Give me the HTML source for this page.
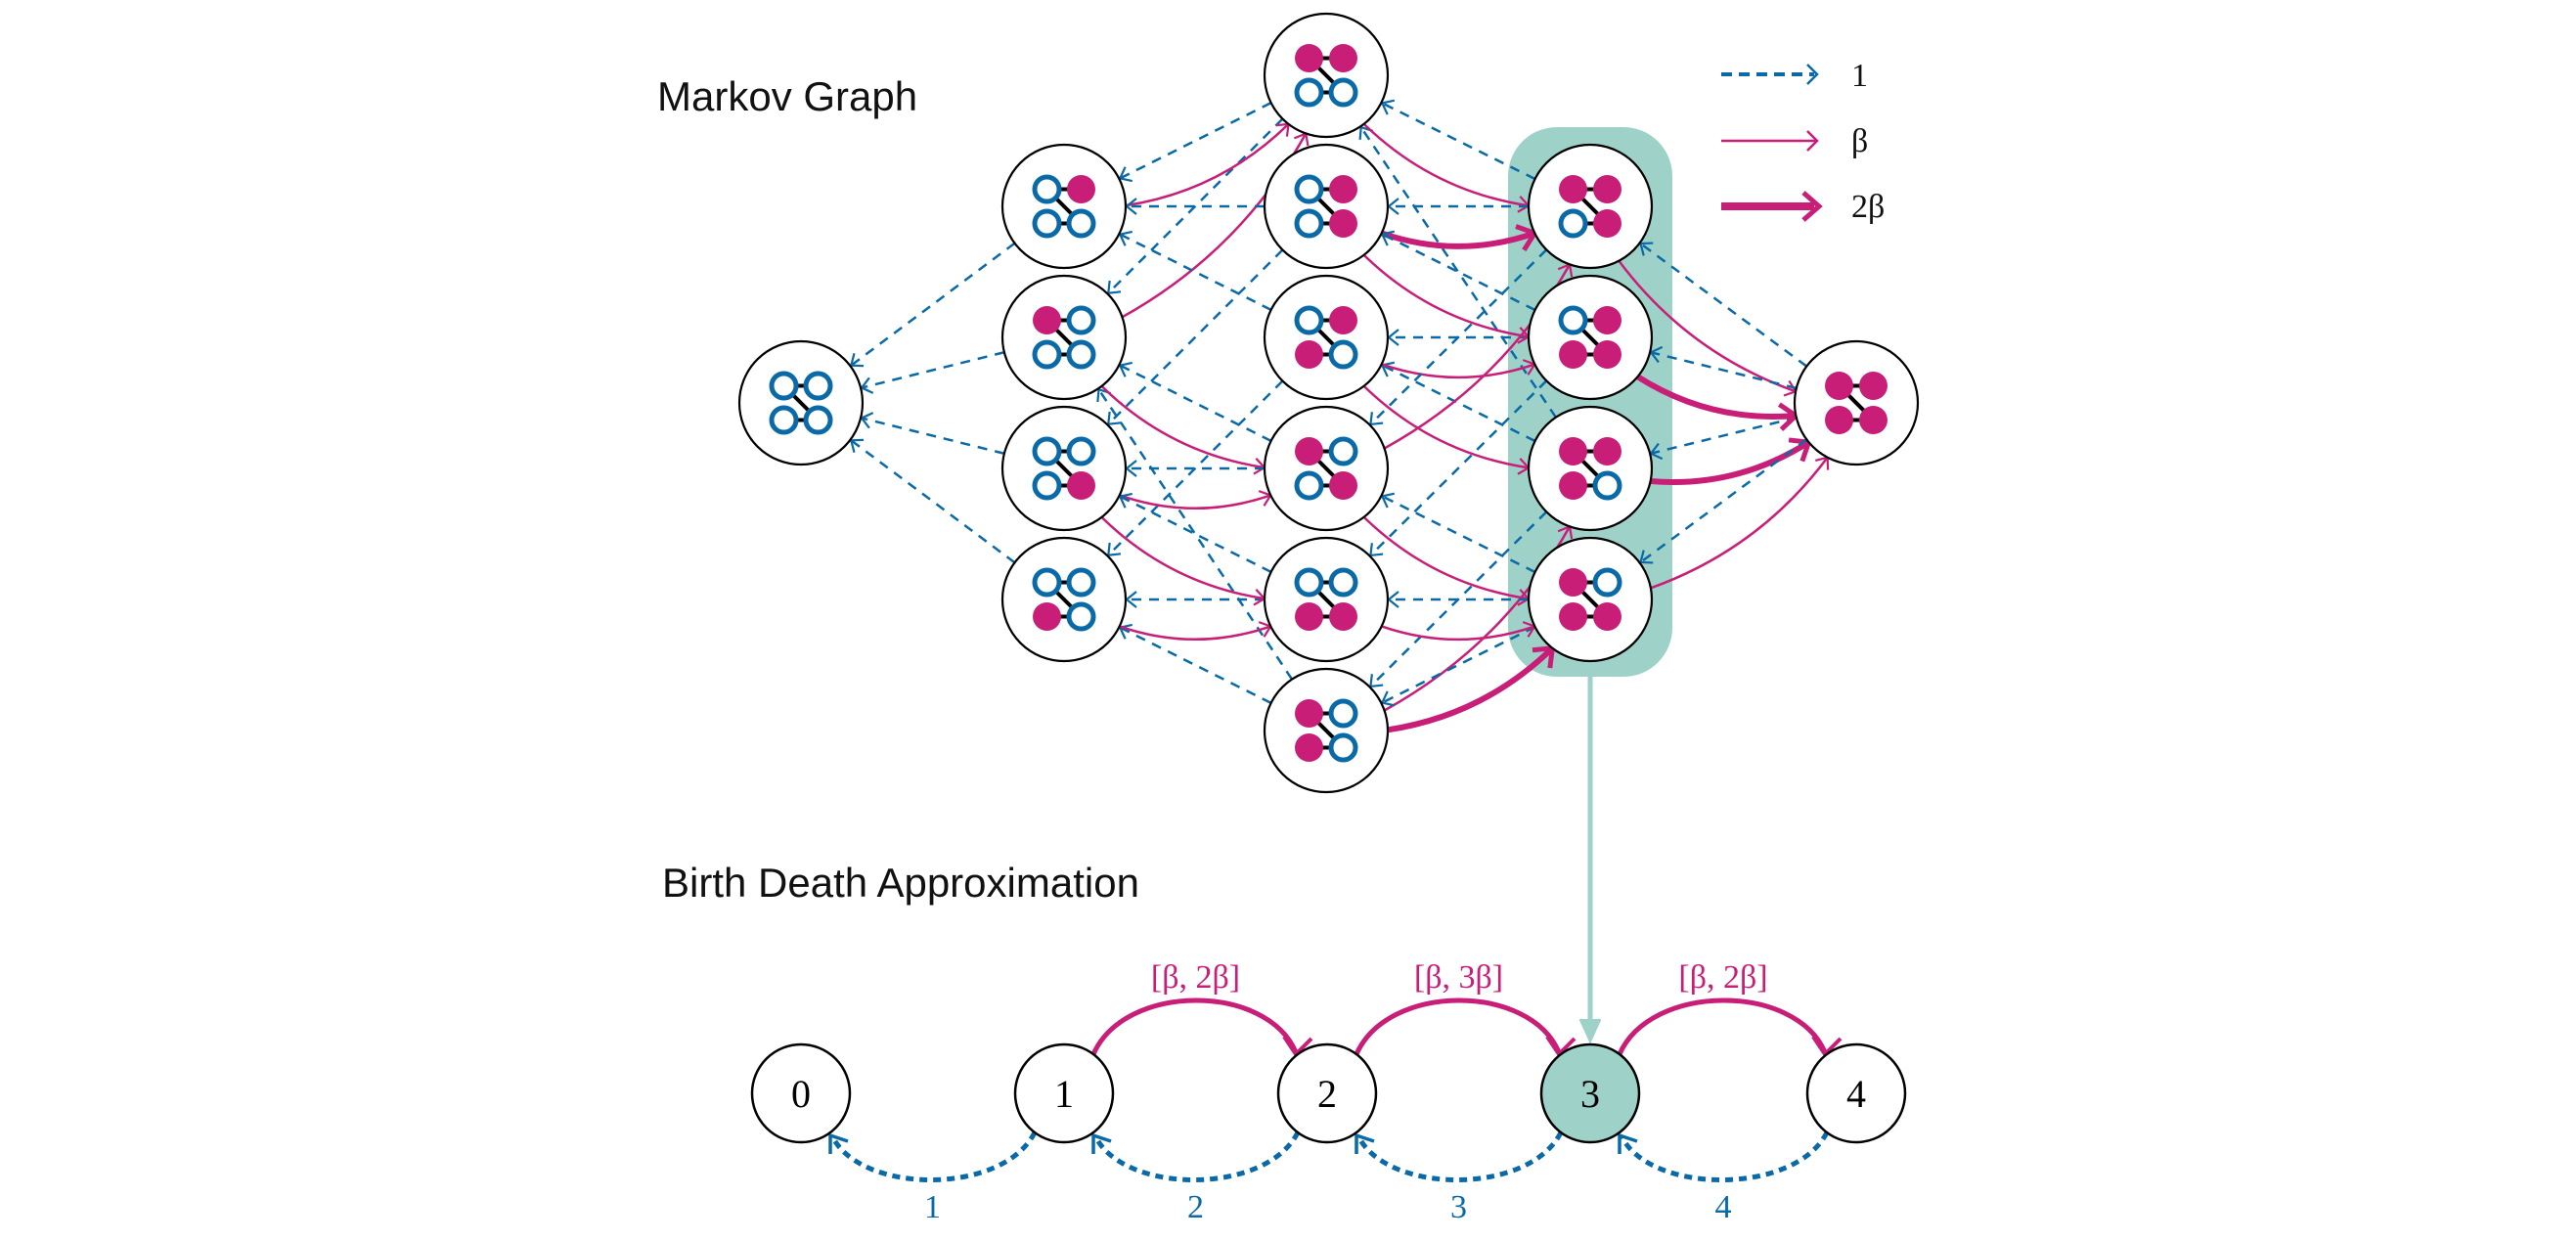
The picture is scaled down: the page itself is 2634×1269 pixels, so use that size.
<!DOCTYPE html>
<html><head><meta charset="utf-8"><style>
html,body{margin:0;padding:0;background:#fff;}
svg{display:block;}
</style></head><body>
<svg id="s" width="2634" height="1269" viewBox="0 0 2634 1269" xmlns="http://www.w3.org/2000/svg">
<rect x="1542" y="130" width="168" height="562" rx="50" ry="50" fill="#9ed2c8"/>
<g id="edges"></g>
<g id="nodes"></g>
<text x="672" y="113" font-family="Liberation Sans, sans-serif" font-size="42" fill="#111">Markov Graph</text>
<text x="677" y="917" font-family="Liberation Sans, sans-serif" font-size="42" fill="#111">Birth Death Approximation</text>
<line x1="1760" y1="76" x2="1855" y2="76" stroke="#0a6aa8" stroke-width="4" stroke-dasharray="11 7"/>
<path d="M1848,66 L1858,76 L1848,86" fill="none" stroke="#0a6aa8" stroke-width="2.5"/>
<line x1="1760" y1="144" x2="1858" y2="144" stroke="#c81e78" stroke-width="2.5"/>
<path d="M1848,134 L1858,144 L1848,154" fill="none" stroke="#c81e78" stroke-width="2.5"/>
<line x1="1760" y1="211" x2="1855" y2="211" stroke="#c81e78" stroke-width="8"/>
<path d="M1844,197 L1860,211 L1844,225" fill="none" stroke="#c81e78" stroke-width="5"/>
<g font-family="Liberation Serif, serif" font-size="34" fill="#111">
<text x="1893" y="88">1</text><text x="1893" y="155">β</text><text x="1893" y="222">2β</text>
</g>
<line x1="1626" y1="692" x2="1626" y2="1060" stroke="#9ed2c8" stroke-width="5"/>
<path d="M1616,1042 L1626,1064 L1636,1042" fill="#9ed2c8" stroke="#9ed2c8" stroke-width="3"/>
<g id="bd"></g>
</svg>
<script>
var NS="http://www.w3.org/2000/svg";
function el(t,a,p){var e=document.createElementNS(NS,t);for(var k in a)e.setAttribute(k,a[k]);if(p)p.appendChild(e);return e;}
var BLUE="#0a6aa8",PINK="#c81e78";
function chev(x,y,dx,dy,s,col,w,p){var L=Math.sqrt(dx*dx+dy*dy);dx/=L;dy/=L;var px=-dy,py=dx;
 el("path",{d:"M"+(x-dx*s+px*s*0.8)+","+(y-dy*s+py*s*0.8)+" L"+x+","+y+" L"+(x-dx*s-px*s*0.8)+","+(y-dy*s-py*s*0.8),fill:"none",stroke:col,"stroke-width":w},p);}
// bits: TL=1 TR=2 BL=4 BR=8 ; graph path TR-TL-BR-BL
var nb={1:[2,8],2:[1],4:[8],8:[1,4]};
var pos={0:[819,412],
2:[1088,211],1:[1088,345],8:[1088,479],4:[1088,613],
3:[1356,77],10:[1356,211],6:[1356,345],9:[1356,479],12:[1356,613],5:[1356,747],
11:[1626,211],14:[1626,345],7:[1626,479],13:[1626,613],
15:[1898,412]};
var E=document.getElementById("edges"),N=document.getElementById("nodes");
var R=63;
function bc(n){var c=0;while(n){c+=n&1;n>>=1;}return c;}
var keys=Object.keys(pos).map(Number);
keys.forEach(function(a){keys.forEach(function(b){
 if(bc(b)==bc(a)+1 && (a&b)==a){
  var v=b^a;
  var A=pos[a],B=pos[b];
  var dx=B[0]-A[0],dy=B[1]-A[1],L=Math.sqrt(dx*dx+dy*dy),ux=dx/L,uy=dy/L;
  var x2=A[0]+ux*(R+1),y2=A[1]+uy*(R+1);
  el("line",{x1:B[0]-ux*R,y1:B[1]-uy*R,x2:x2,y2:y2,stroke:BLUE,"stroke-width":2.5,"stroke-dasharray":"10 8"},E);
  chev(x2,y2,-ux,-uy,10,BLUE,2.2,E);
  var rate=0;nb[v].forEach(function(n){if(a&n)rate++;});
  if(rate>0){
   var th=rate==2;
   var px=-uy,py=ux,ang=0.45;
   var ca=Math.cos(ang),sa=Math.sin(ang);
   var sx=A[0]+R*(ux*ca+px*sa),sy=A[1]+R*(uy*ca+py*sa);
   var ex=B[0]+R*(-ux*ca+px*sa),ey=B[1]+R*(-uy*ca+py*sa);
   var off=0.1*L;
   var cx=(sx+ex)/2+px*off,cy=(sy+ey)/2+py*off;
   el("path",{d:"M"+sx+","+sy+" Q"+cx+","+cy+" "+ex+","+ey,fill:"none",stroke:PINK,"stroke-width":th?6:2.5},E);
   chev(ex,ey,ex-cx,ey-cy,th?16:10,PINK,th?5:2.2,E);
  }
 }
});});
keys.forEach(function(k){
 var p=pos[k];
 el("circle",{cx:p[0],cy:p[1],r:R,fill:"#fff",stroke:"#000","stroke-width":2.2},N);
 var o=17.5;
 var cs={1:[-o,-o],2:[o,-o],4:[-o,o],8:[o,o]};
 el("line",{x1:p[0]-o,y1:p[1]-o,x2:p[0]+o,y2:p[1]-o,stroke:"#000","stroke-width":4},N);
 el("line",{x1:p[0]-o,y1:p[1]+o,x2:p[0]+o,y2:p[1]+o,stroke:"#000","stroke-width":4},N);
 el("line",{x1:p[0]-o,y1:p[1]-o,x2:p[0]+o,y2:p[1]+o,stroke:"#000","stroke-width":4},N);
 [1,2,4,8].forEach(function(b){
  var c=cs[b];
  if(k&b) el("circle",{cx:p[0]+c[0],cy:p[1]+c[1],r:14.5,fill:PINK},N);
  else el("circle",{cx:p[0]+c[0],cy:p[1]+c[1],r:12.5,fill:"#fff",stroke:BLUE,"stroke-width":5},N);
 });
});
var G=document.getElementById("bd");
var xs=[819,1088,1357,1626,1898],Y=1118,r=50;
var lab=["[β, 2β]","[β, 3β]","[β, 2β]"];
for(var i=0;i<4;i++){
 var x1=xs[i],x2=xs[i+1];
 if(i>0){
  el("path",{d:"M"+(x1+30)+","+(Y-40)+" C"+(x1+62)+",1005 "+(x2-62)+",1005 "+(x2-32)+","+(Y-42),fill:"none",stroke:PINK,"stroke-width":5},G);
  el("path",{d:"M"+(x2-44)+","+(Y-58)+" L"+(x2-32)+","+(Y-40)+" L"+(x2-16)+","+(Y-56),fill:"none",stroke:PINK,"stroke-width":4},G);
  var t=el("text",{x:(x1+x2)/2,y:1010,"text-anchor":"middle","font-family":"Liberation Serif, serif","font-size":34,fill:PINK},G);t.textContent=lab[i-1];
 }
 el("path",{d:"M"+(x2-30)+","+(Y+40)+" C"+(x2-62)+",1222 "+(x1+62)+",1222 "+(x1+32)+","+(Y+44),fill:"none",stroke:BLUE,"stroke-width":5,"stroke-dasharray":"8 6"},G);
 el("path",{d:"M"+(x1+30)+","+(Y+62)+" L"+(x1+30)+","+(Y+43)+" L"+(x1+48)+","+(Y+49),fill:"none",stroke:BLUE,"stroke-width":3.5},G);
 var t2=el("text",{x:(x1+x2)/2,y:1245,"text-anchor":"middle","font-family":"Liberation Serif, serif","font-size":34,fill:BLUE},G);t2.textContent=String(i+1);
}
xs.forEach(function(x,i){
 el("circle",{cx:x,cy:Y,r:r,fill:i==3?"#9ed2c8":"#fff",stroke:"#000","stroke-width":2.5},G);
 var t=el("text",{x:x,y:Y+14,"text-anchor":"middle","font-family":"Liberation Serif, serif","font-size":40,fill:"#000"},G);t.textContent=String(i);
});
</script>
</body></html>
